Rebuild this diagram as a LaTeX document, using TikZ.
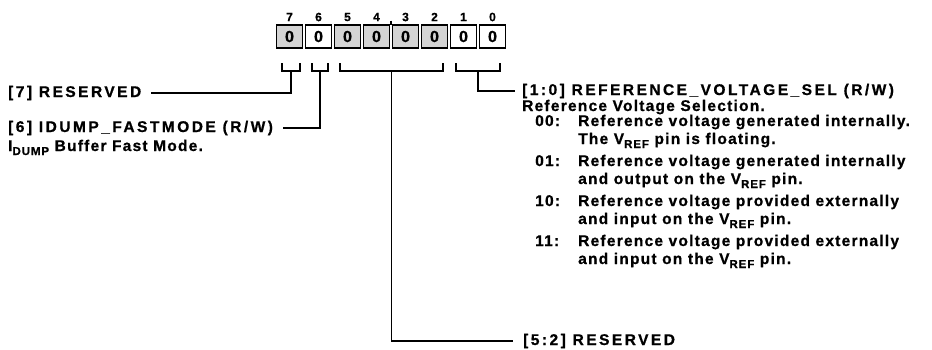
\documentclass[tikz,border=0pt]{standalone}
\usepackage{fontspec}
\setmainfont{Liberation Sans}[LetterSpace=8, BoldFeatures={FakeBold=0.8}]
\newfontfamily\titlefont{Liberation Sans}[LetterSpace=16, BoldFeatures={FakeBold=0.8}]
\definecolor{boxgray}{RGB}{212,212,212}
\newcommand{\sub}[1]{\raisebox{-4pt}{\fontsize{11.5pt}{11.5pt}\selectfont #1}}

\begin{document}
\begin{tikzpicture}[x=1pt, y=-1pt,
  bitbox/.style={draw, line width=1.9pt, minimum width=26pt, minimum height=23.5pt,
    inner sep=0pt, font=\fontsize{16pt}{16pt}\selectfont\bfseries},
  bitnum/.style={inner sep=0pt, font=\fontsize{12pt}{12pt}\selectfont\bfseries},
  field/.style={anchor=base west, inner sep=0pt, font=\fontsize{15.5pt}{15.5pt}\selectfont\titlefont\bfseries},
  desc/.style={anchor=base west, inner sep=0pt, font=\fontsize{15.5pt}{15.5pt}\selectfont\bfseries},
  link/.style={line width=1.8pt}]

  \useasboundingbox (0,0) rectangle (932,349);

  % register cells and bit numbers
  \foreach \n/\x/\c in {7/289.5/boxgray, 6/318.5/white, 5/347.5/boxgray, 4/376.5/boxgray,
                        3/405.5/boxgray, 2/434.5/boxgray, 1/463.5/white, 0/492.5/white}{
    \node[bitbox, fill=\c] (b\n) at (\x,36.5) {0};
    \node[bitnum] (n\n) at (\x,17) {\n};
  }
  \draw[link] (391,20.5) -- (391,25);

  % field brackets
  \draw[link] (282,63) |- (300,71) -- (300,63);
  \draw[link] (312,63) |- (328,71) -- (328,63);
  \draw[link] (340,63) |- (443,71) -- (443,63);
  \draw[link] (456,63) |- (500,71) -- (500,63);
  \coordinate (k7)  at (291,71);
  \coordinate (k6)  at (320,71);
  \coordinate (k52) at (391.5,71);
  \coordinate (k10) at (478,71);

  % field descriptions
  \node[field] (f7)  at (8,97)    {[7] RESERVED};
  \node[field] (f6)  at (8,132)   {[6] IDUMP\_FASTMODE (R/W)};
  \node[desc]  (d6)  at (8,151)   {I\sub{DUMP} Buffer Fast Mode.};
  \node[field] (f10) at (522,95)  {[1:0] REFERENCE\_VOLTAGE\_SEL (R/W)};
  \node[desc]  (d10) at (522,111) {Reference Voltage Selection.};
  \node[field] (f52) at (523,345) {[5:2] RESERVED};

  \foreach \code/\y/\first/\second in {
      00/126/{Reference voltage generated internally.}/{The V\sub{REF} pin is floating.},
      01/166/{Reference voltage generated internally}/{and output on the V\sub{REF} pin.},
      10/206/{Reference voltage provided externally}/{and input on the V\sub{REF} pin.},
      11/246/{Reference voltage provided externally}/{and input on the V\sub{REF} pin.}
  }{
    \node[desc] (c\code) at (535,\y)    {\code:};
    \node[desc] (t\code) at (578,\y)    {\first};
    \node[desc] (u\code) at (578,\y+18) {\second};
  }

  % connectors
  \draw[link] (k7)  |- ([xshift=10pt]f7.east);
  \draw[link] (k6)  |- ([xshift=10pt]f6.east);
  \draw[link] (k10) |- ([xshift=-7pt]f10.west);
  \draw[link] (k52) |- ([xshift=-10pt]f52.west);

\end{tikzpicture}
\end{document}
